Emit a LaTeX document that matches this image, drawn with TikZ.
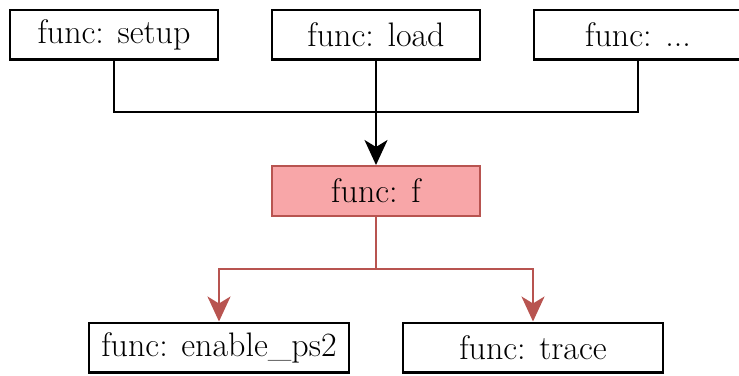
\documentclass[tikz,border=0pt]{standalone}
\usetikzlibrary{arrows.meta}
\definecolor{redfill}{RGB}{248,166,168}
\definecolor{redline}{RGB}{184,84,80}
\tikzset{
  fbox/.style={draw=black, line width=1.1pt, fill=white, minimum width=103.9pt, minimum height=24.9pt, inner sep=0pt, font=\fontsize{17pt}{20pt}\selectfont},
  widebox/.style={fbox, minimum width=129.9pt},
  redbox/.style={fbox, fill=redfill, draw=redline},
  blackconn/.style={draw=black, line width=1.1pt},
  redconn/.style={draw=redline, line width=1.1pt},
  tip/.style={-{Stealth[length=12.5pt, width=11.5pt, inset=3.5pt]}}
}
\begin{document}
\begin{tikzpicture}[x=0.5pt, y=-0.5pt]
\useasboundingbox (0,0) rectangle (739,375);
\node[fbox] (setup) at (114,34.5) {func: setup};
\node[fbox] (load) at (376,34.5) {func: load};
\node[fbox] (dots) at (638,34.5) {func: ...};
\node[redbox] (f) at (376,191) {func: f};
\node[widebox] (en) at (219,347.5) {func: enable\_ps2};
\node[widebox] (tr) at (533,347.5) {func: trace};
\coordinate (jt) at (376,112);
\coordinate (jb) at (376,269);
\draw[blackconn] (setup.south) |- (jt) -| (dots.south);
\draw[blackconn, tip] (load.south) -- (f.north);
\draw[redconn] (f.south) -- (jb);
\draw[redconn, tip] (jb) -| (en.north);
\draw[redconn, tip] (jb) -| (tr.north);
\end{tikzpicture}
\end{document}
